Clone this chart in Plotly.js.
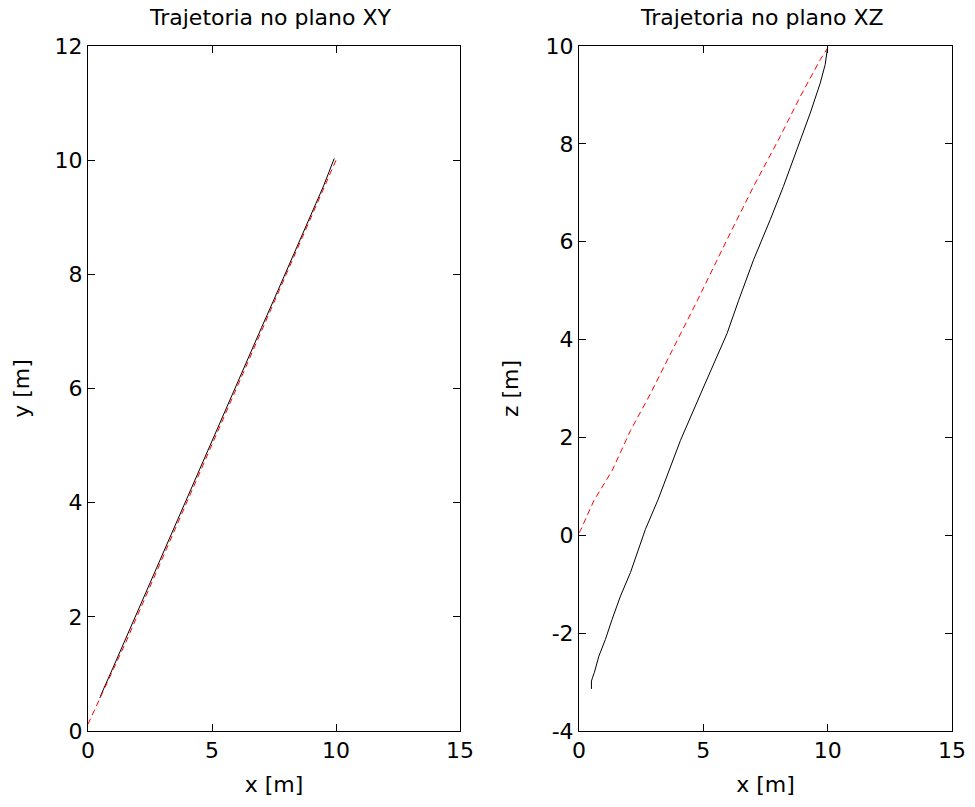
<!DOCTYPE html>
<html>
<head>
<meta charset="utf-8">
<script src="https://cdn.plot.ly/plotly-3.0.1.min.js"></script>
<style>html,body{margin:0;padding:0;background:#fff;}#chart{width:975px;height:807px;}</style>
</head>
<body>
<div id="chart"></div>
<script>
// XY plane: real trajectory (black) and reference (red dashed)
const xyRealX = [0.48, 0.55, 1.0, 1.5, 2.0, 2.5, 3.0, 3.5, 4.0, 4.5, 5.0, 5.5, 6.0, 6.5, 7.0, 7.5, 8.0, 8.5, 9.0, 9.5, 9.93];
const xyRealY = [0.58, 0.66, 1.10, 1.60, 2.10, 2.60, 3.09, 3.59, 4.09, 4.58, 5.08, 5.58, 6.07, 6.57, 7.07, 7.56, 8.06, 8.55, 9.05, 9.55, 10.03];
const xyRefX  = [0.0, 0.5, 1.0, 1.5, 2.0, 2.5, 3.0, 3.5, 4.0, 4.5, 5.0, 5.5, 6.0, 6.5, 7.0, 7.5, 8.0, 8.5, 9.0, 9.5, 10.0];
const xyRefY  = [0.12, 0.58, 1.04, 1.53, 2.03, 2.53, 3.03, 3.53, 4.02, 4.52, 5.02, 5.52, 6.02, 6.52, 7.02, 7.51, 8.01, 8.51, 9.01, 9.51, 10.0];

// XZ plane
const xzRealX = [0.50, 0.50, 0.55, 0.62, 0.80, 1.06, 1.33, 1.67, 2.07, 2.40, 2.67, 3.18, 4.08, 5.01, 5.95, 6.42, 7.02, 7.69, 8.22, 8.76, 9.30, 9.70, 9.90, 10.0];
const xzRealZ = [-3.14, -2.98, -2.90, -2.80, -2.47, -2.13, -1.72, -1.24, -0.76, -0.29, 0.12, 0.73, 1.94, 3.03, 4.12, 4.80, 5.63, 6.45, 7.13, 7.88, 8.63, 9.24, 9.62, 9.98];
const xzRefX  = [0.0, 0.06, 0.60, 1.33, 2.07, 2.87, 3.67, 4.35, 4.75, 5.95, 7.02, 8.09, 8.90, 9.70, 10.0];
const xzRefZ  = [0.05, 0.10, 0.71, 1.32, 2.14, 2.89, 3.70, 4.38, 4.79, 6.04, 7.13, 8.15, 8.97, 9.72, 9.96];

const titles = ['Trajetoria no plano XY', 'Trajetoria no plano XZ'];
const xTicks = [0, 5, 10, 15];
const yTicks = [0, 2, 4, 6, 8, 10, 12];
const zTicks = [-4, -2, 0, 2, 4, 6, 8, 10];
const zTickText = ['-4', '-2', '0', '2', '4', '6', '8', '10'];

const FONT = 'DejaVu Sans, Arial, sans-serif';
const W = 975, H = 807;
const px = v => v / W;
const py = v => 1 - v / H;

const traces = [
  {x: xyRealX, y: xyRealY, xaxis: 'x', yaxis: 'y', mode: 'lines', line: {color: '#000', width: 1}, hoverinfo: 'skip'},
  {x: xyRefX, y: xyRefY, xaxis: 'x', yaxis: 'y', mode: 'lines', line: {color: '#ff0000', width: 1, dash: '6px,4px'}, hoverinfo: 'skip'},
  {x: xzRealX, y: xzRealZ, xaxis: 'x2', yaxis: 'y2', mode: 'lines', line: {color: '#000', width: 1}, hoverinfo: 'skip'},
  {x: xzRefX, y: xzRefZ, xaxis: 'x2', yaxis: 'y2', mode: 'lines', line: {color: '#ff0000', width: 1, dash: '6px,4px'}, hoverinfo: 'skip'}
];

const tickFont = {family: FONT, size: 22, color: '#000'};
const labFont = {family: FONT, size: 22, color: '#000'};
const axBase = {
  showline: true, linecolor: '#000', linewidth: 1, mirror: 'ticks',
  ticks: 'inside', ticklen: 7, tickcolor: '#000', tickwidth: 1,
  showgrid: false, zeroline: false, automargin: false,
  tickfont: tickFont
};

const layout = {
  width: W, height: H,
  margin: {l: 0, r: 0, t: 0, b: 0},
  paper_bgcolor: '#fff', plot_bgcolor: '#fff',
  showlegend: false,
  xaxis: Object.assign({}, axBase, {domain: [px(88), px(460)], range: [0, 15], tickvals: xTicks, anchor: 'y',
    title: {text: 'x [m]', font: labFont, standoff: 14}}),
  yaxis: Object.assign({}, axBase, {domain: [py(731), py(46)], range: [0, 12], tickvals: yTicks, anchor: 'x',
    title: {text: 'y [m]', font: labFont, standoff: 18}}),
  xaxis2: Object.assign({}, axBase, {domain: [px(579), px(952)], range: [0, 15], tickvals: xTicks, anchor: 'y2',
    title: {text: 'x [m]', font: labFont, standoff: 14}}),
  yaxis2: Object.assign({}, axBase, {domain: [py(731), py(46)], range: [-4, 10], tickvals: zTicks, ticktext: zTickText, anchor: 'x2',
    title: {text: 'z [m]', font: labFont, standoff: 20}}),
  annotations: [
    {text: titles[0], xref: 'paper', yref: 'paper', x: px(270), y: py(18), xanchor: 'center', yanchor: 'middle', showarrow: false,
     font: {family: FONT, size: 22, color: '#000'}},
    {text: titles[1], xref: 'paper', yref: 'paper', x: px(762), y: py(18), xanchor: 'center', yanchor: 'middle', showarrow: false,
     font: {family: FONT, size: 22, color: '#000'}}
  ]
};

Plotly.newPlot('chart', traces, layout, {staticPlot: true, displayModeBar: false});
</script>
</body>
</html>
